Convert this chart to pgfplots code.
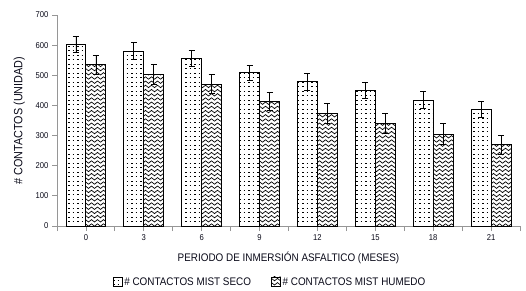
\documentclass[border=0pt]{standalone}
\usepackage{fontspec}
\setmainfont[FakeStretch=0.9]{Liberation Sans}
\usepackage{pgfplots}
\pgfplotsset{compat=1.18}
\usetikzlibrary{patterns}
\pgfdeclarepatternformonly{sdots}{\pgfpoint{-1pt}{-1pt}}{\pgfpoint{5pt}{5pt}}{\pgfpoint{4.5pt}{4.5pt}}{
  \pgfsetlinewidth{0.7pt}
  \pgfpathmoveto{\pgfpoint{0.5pt}{1pt}}
  \pgfpathlineto{\pgfpoint{2pt}{1pt}}
  \pgfusepath{stroke}
}
\pgfdeclarepatternformonly{swaves}{\pgfpoint{-1pt}{-1pt}}{\pgfpoint{7pt}{5pt}}{\pgfpoint{6pt}{4.2pt}}{
  \pgfsetlinewidth{0.7pt}
  \pgfpathmoveto{\pgfpoint{0pt}{2pt}}
  \pgfpathcurveto{\pgfpoint{1pt}{3.6pt}}{\pgfpoint{2pt}{3.6pt}}{\pgfpoint{3pt}{2pt}}
  \pgfpathcurveto{\pgfpoint{4pt}{0.4pt}}{\pgfpoint{5pt}{0.4pt}}{\pgfpoint{6pt}{2pt}}
  \pgfusepath{stroke}
}
\definecolor{axgray}{RGB}{150,150,150}
\definecolor{txt}{RGB}{10,10,25}
\pgfplotstableread{
x seco esec hum ehum
0 603 27 535 32
1 580 28 502 33
2 556 26 471 32
3 508 26 414 30
4 478 27 373 33
5 450 27 340 32
6 418 27 305 35
7 387 27 269 32
}\datatab
\begin{document}
\begin{tikzpicture}
\begin{axis}[
  at={(0,0)}, anchor=south west,
  scale only axis, width=463pt, height=211pt,
  xmin=-0.5, xmax=7.5, ymin=0, ymax=700,
  axis x line*=bottom, axis y line*=left,
  axis line style={axgray, line width=0.8pt},
  every tick/.style={axgray, line width=0.8pt},
  tick align=outside, major tick length=5pt, minor tick length=5pt,
  xtick={0,...,7}, xticklabels={0,3,6,9,12,15,18,21},
  minor xtick={-0.5,0.5,1.5,2.5,3.5,4.5,5.5,6.5,7.5},
  ytick={0,100,...,700},
  tick label style={font=\fontsize{8.5}{10}\selectfont, text=txt},
  ylabel={\# CONTACTOS (UNIDAD)},
  xlabel={PERIODO DE INMERSIÓN ASFALTICO (MESES)},
  xlabel style={font=\fontsize{11}{13}\selectfont, text=txt, yshift=-5pt},
  ylabel style={font=\fontsize{12}{14}\selectfont, text=txt, yshift=4pt},
  /pgf/number format/assume math mode=true,
  ybar, bar width=0.345,
  legend style={at={(0.46,-0.265)}, anchor=center, draw=none, legend columns=2,
    font=\fontsize{11}{13}\selectfont, text=txt,
    /tikz/every even column/.append style={column sep=18pt},
    /tikz/every odd column/.append style={column sep=0pt}},
  legend image code/.code={\draw[#1, line width=0.6pt] (0pt,-4pt) rectangle (9pt,5pt);},
]
\addplot[draw=black, line width=0.9pt, pattern=sdots, bar shift=-0.1725,
  error bars/.cd, y dir=both, y explicit, error bar style={black, line width=0.8pt}, error mark options={rotate=90, mark size=3pt, black, line width=0.8pt}]
  table[x=x, y=seco, y error=esec] {\datatab};
\addlegendentry{\# CONTACTOS MIST SECO}
\addplot[draw=black, line width=0.9pt, pattern=swaves, bar shift=0.1725,
  error bars/.cd, y dir=both, y explicit, error bar style={black, line width=0.8pt}, error mark options={rotate=90, mark size=3pt, black, line width=0.8pt}]
  table[x=x, y=hum, y error=ehum] {\datatab};
\addlegendentry{\# CONTACTOS MIST HUMEDO}
\end{axis}
\pgfresetboundingbox
\path (-57pt,-64pt) rectangle (469pt,226pt);
\end{tikzpicture}
\end{document}
